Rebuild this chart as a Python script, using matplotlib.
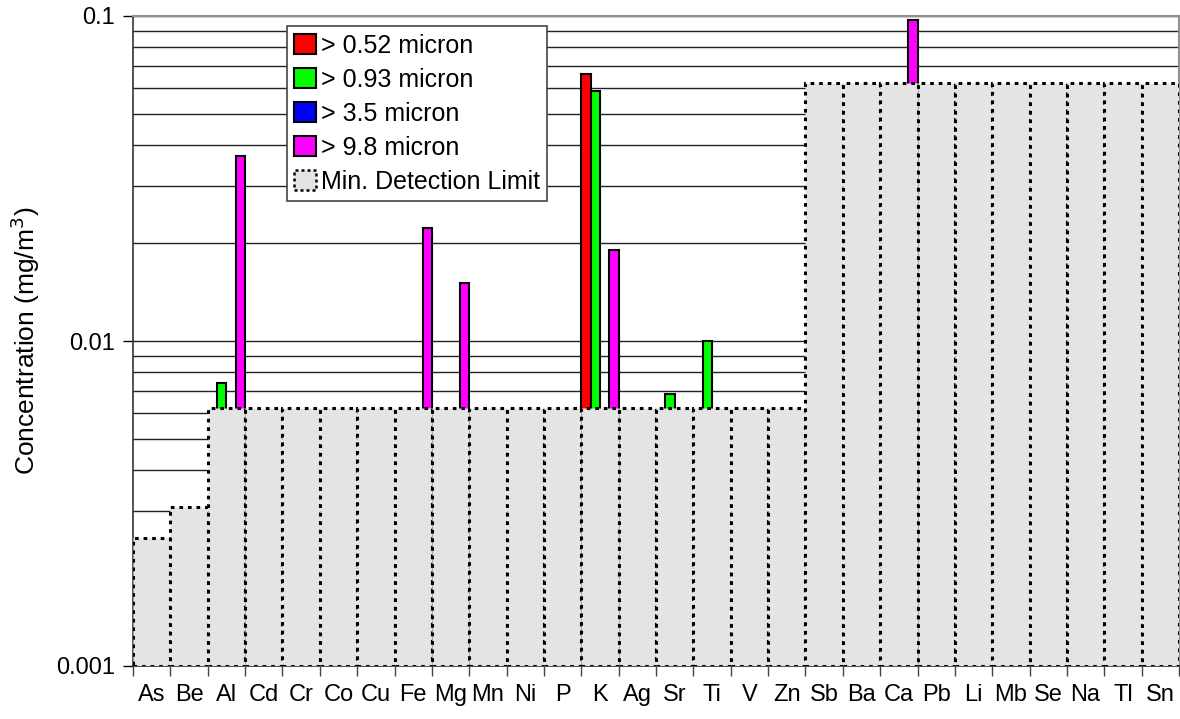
import numpy as np
import matplotlib
matplotlib.use("Agg")
import matplotlib.pyplot as plt
from matplotlib.ticker import FixedLocator, NullFormatter, FuncFormatter, LogLocator
from matplotlib.patches import Patch

plt.rcParams['font.family'] = ['Liberation Sans', 'DejaVu Sans']

categories = ["As", "Be", "Al", "Cd", "Cr", "Co", "Cu", "Fe", "Mg", "Mn", "Ni", "P", "K",
              "Ag", "Sr", "Ti", "V", "Zn", "Sb", "Ba", "Ca", "Pb", "Li", "Mb", "Se", "Na", "Tl", "Sn"]

mdl = [0.00248, 0.00308] + [0.0062] * 16 + [0.062] * 10

nan = np.nan
s052 = [nan]*12 + [0.0662] + [nan]*15
s093 = [nan]*28
s093[2] = 0.0074
s093[12] = 0.0586
s093[14] = 0.00686
s093[15] = 0.0100
s35 = [nan]*28
s98 = [nan]*28
s98[2] = 0.0372
s98[7] = 0.0222
s98[8] = 0.0151
s98[12] = 0.0191
s98[20] = 0.097

series = [("> 0.52 micron", s052, "#ff0000"),
          ("> 0.93 micron", s093, "#00ff00"),
          ("> 3.5 micron", s35, "#0000ff"),
          ("> 9.8 micron", s98, "#ff00ff")]

ymin, ymax = 0.001, 0.1

fig = plt.figure(figsize=(11.8, 7.19), dpi=100)
ax = fig.add_axes([133/1180, 53/719, 1046/1180, 650/719])

x = np.arange(len(categories))
bw = 0.25
for k, (name, vals, col) in enumerate(series):
    v = np.array(vals, dtype=float)
    m = ~np.isnan(v)
    ax.bar(x[m] - 0.5 + bw * (k + 0.5), v[m] - ymin, bottom=ymin, width=bw,
           color=col, edgecolor="black", linewidth=1.5, zorder=2)

ax.bar(x, np.array(mdl) - ymin, bottom=ymin, width=1.0, color="#e4e4e4",
       edgecolor="black", linewidth=2.2, linestyle=(0, (1.2, 1.6)), zorder=3)

ax.set_yscale("log")
ax.set_ylim(ymin, ymax)
ax.set_xlim(-0.5, len(categories) - 0.5)

ax.yaxis.set_major_locator(FixedLocator([0.001, 0.01, 0.1]))
ax.yaxis.set_major_formatter(FuncFormatter(lambda v, p: {0.001: "0.001", 0.01: "0.01", 0.1: "0.1"}.get(round(v, 4), "")))
ax.yaxis.set_minor_locator(LogLocator(base=10, subs=np.arange(2, 10)))
ax.yaxis.set_minor_formatter(NullFormatter())
ax.tick_params(axis="y", which="major", length=7, width=1, direction="out", labelsize=17, pad=6)
ax.tick_params(axis="y", which="minor", length=0)

ax.set_xticks(x)
ax.set_xticklabels(categories)
ax.set_xticks(np.arange(len(categories) + 1) - 0.5, minor=True)
ax.tick_params(axis="x", which="major", length=0, labelsize=17, pad=13)
ax.tick_params(axis="x", which="minor", length=7, width=1, direction="out", color="#444444")

ax.grid(True, axis="y", which="both", color="#222222", linewidth=1.0, zorder=0.5)
ax.set_axisbelow(True)

for s in ["top", "right"]:
    ax.spines[s].set_color("#909090")
    ax.spines[s].set_linewidth(1.5)
for s in ["left", "bottom"]:
    ax.spines[s].set_color("#333333")
    ax.spines[s].set_linewidth(1.2)

ax.set_ylabel("Concentration (mg/m$^3$)", fontsize=19, labelpad=10)

handles = [Patch(facecolor=c, edgecolor="black", linewidth=1.5, label=n) for n, _, c in series]
handles.append(Patch(facecolor="#e4e4e4", edgecolor="black", linewidth=1.8,
                     linestyle=(0, (1.2, 1.2)), label="Min. Detection Limit"))
leg = ax.legend(handles=handles, loc="upper left", bbox_to_anchor=(0.147, 0.984),
                fontsize=18, frameon=True, fancybox=False, framealpha=1,
                edgecolor="#444444", borderpad=0.3, labelspacing=0.4,
                handlelength=0.85, handleheight=0.85, handletextpad=0.2, borderaxespad=0)
leg.get_frame().set_linewidth(1.2)
leg.set_zorder(10)

fig.savefig("out.png", dpi=100)
